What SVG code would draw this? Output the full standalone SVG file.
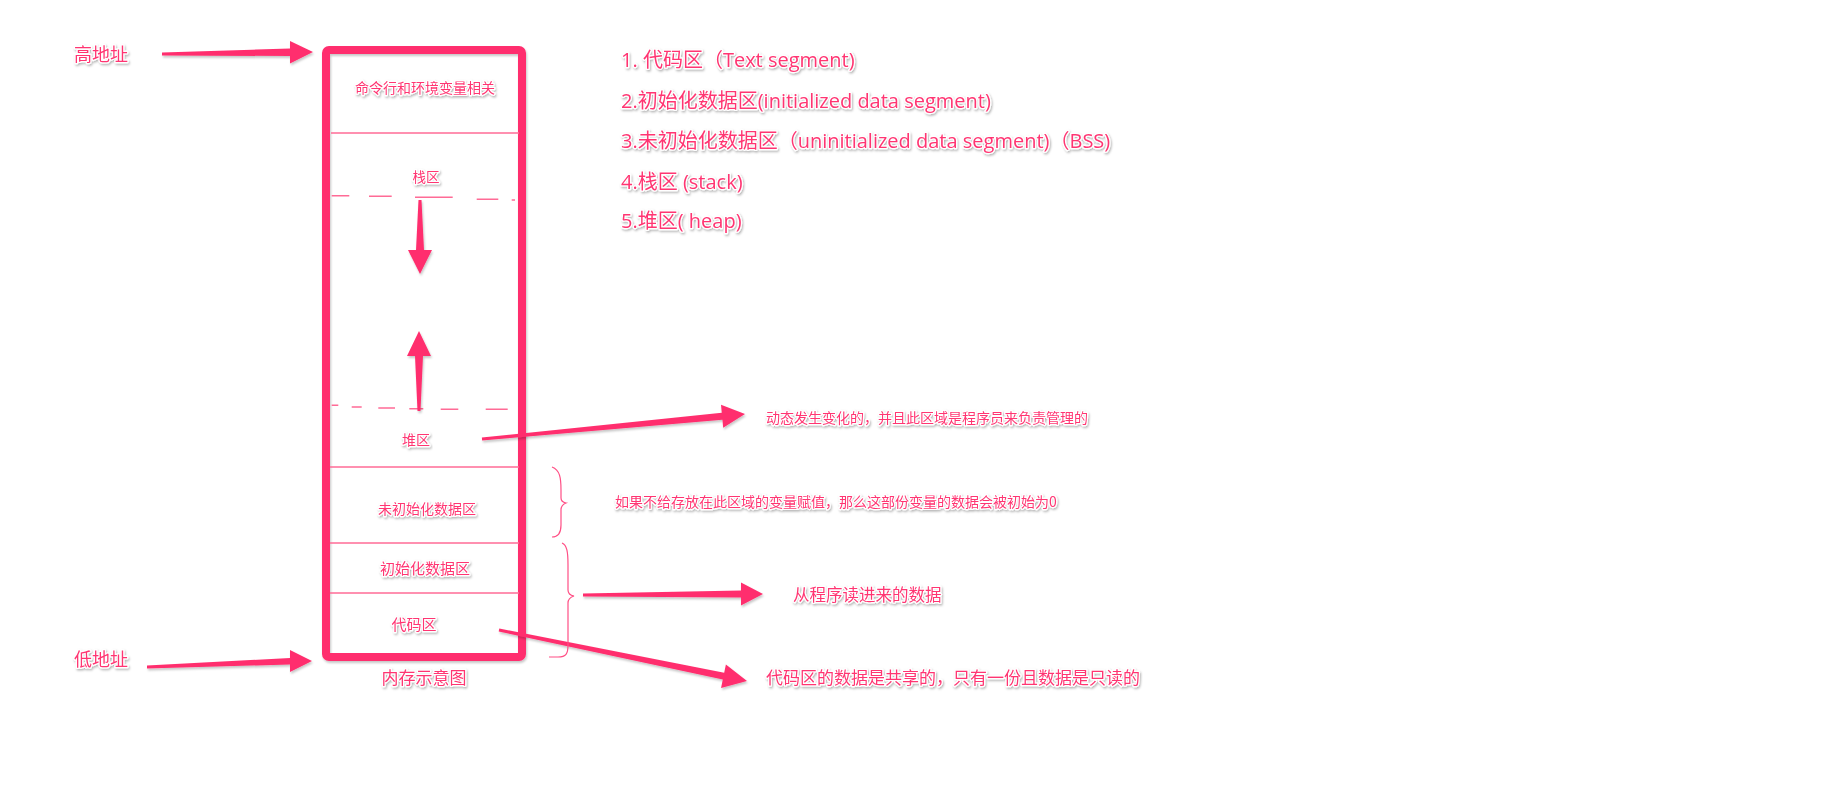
<svg xmlns="http://www.w3.org/2000/svg" width="1840" height="796" viewBox="0 0 1840 796">
<defs>
<filter id="sh" x="-10%" y="-30%" width="120%" height="160%">
<feDropShadow dx="1" dy="1.5" stdDeviation="1" flood-color="#000" flood-opacity="0.3"/>
</filter>
<filter id="ash" x="-10%" y="-30%" width="120%" height="160%">
<feDropShadow dx="1" dy="2" stdDeviation="1.2" flood-color="#000" flood-opacity="0.22"/>
</filter>
</defs>
<style>
.t{font-family:"Noto Sans CJK SC","Noto Sans",sans-serif;fill:#ff3572;stroke:#fff;stroke-width:2.5;paint-order:stroke;stroke-linejoin:round;filter:url(#sh)}
.l{font-family:"Open Sans","Noto Sans CJK SC",sans-serif;font-size:20px}
.m{text-anchor:middle}
.ln{stroke:#ff6b96;stroke-width:1.4;fill:none}
.ar{fill:#ff2f6e;filter:url(#ash)}
.br{stroke:#ff4f85;stroke-width:1.2;fill:none}
</style>
<rect width="1840" height="796" fill="#fff"/>

<g id="memory-box">
<rect x="326" y="50" width="196" height="607" rx="3" fill="none" stroke="#ff2f6e" stroke-width="8" filter="url(#ash)"/>
</g>

<g id="region-cmdline">
<text class="t m" x="425" y="93" font-size="14">命令行和环境变量相关</text>
<line class="ln" x1="331" y1="133" x2="519" y2="133"/>
</g>

<g id="region-stack">
<text class="t m" x="426" y="182" font-size="13.5">栈区</text>
<path class="ln" d="M331.7,195.7H349.3M369,196.3H391.7M415,197.3H452.7M476.7,199.3H498.3M511.7,200H515"/>
</g>

<g id="region-heap">
<path class="ln" d="M331.7,405.3H338.3M351.7,407H361.7M378.3,408H395M409.3,408.7H423.3M440.7,409.3H458.3M485.7,409.3H507.7"/>
<text class="t m" x="416" y="445" font-size="14">堆区</text>
<line class="ln" x1="330" y1="467" x2="519" y2="467"/>
</g>

<g id="region-bss">
<text class="t m" x="427" y="514" font-size="14">未初始化数据区</text>
<line class="ln" x1="330" y1="543" x2="519" y2="543"/>
</g>

<g id="region-data">
<text class="t m" x="425" y="574" font-size="15">初始化数据区</text>
<line class="ln" x1="330" y1="593" x2="519" y2="593"/>
</g>

<g id="region-text">
<text class="t m" x="414" y="630" font-size="15">代码区</text>
</g>

<g id="caption">
<text class="t m" x="424" y="684" font-size="17">内存示意图</text>
</g>

<g id="label-high">
<text class="t m" x="101" y="61" font-size="18">高地址</text>
</g>
<g id="label-low">
<text class="t m" x="101" y="666" font-size="18">低地址</text>
</g>

<g id="legend">
<text class="t l" x="621" y="67">1. 代码区（Text segment)</text>
<text class="t l" x="621" y="108">2.初始化数据区(initialized data segment)</text>
<text class="t l" x="621" y="148">3.未初始化数据区（uninitialized data segment)（BSS)</text>
<text class="t l" x="621" y="189">4.栈区 (stack)</text>
<text class="t l" x="621" y="228">5.堆区( heap)</text>
</g>

<g id="note-heap">
<text class="t" x="766" y="423" font-size="14">动态发生变化的，并且此区域是程序员来负责管理的</text>
</g>
<g id="note-bss">
<text class="t" x="615" y="507" font-size="14">如果不给存放在此区域的变量赋值，那么这部份变量的数据会被初始为0</text>
</g>
<g id="note-data">
<text class="t" x="793" y="601" font-size="16.5">从程序读进来的数据</text>
</g>
<g id="note-text">
<text class="t" x="766" y="684" font-size="17">代码区的数据是共享的，只有一份且数据是只读的</text>
</g>

<g id="connectors">
<polygon class="ar" points="162,52.5 290,48.5 290,41 313,52 290,63.5 290,56 162,55.5"/>
<polygon class="ar" points="147,665.5 290,658 290,650 312,661 290,672 290,664.5 147,668.5"/>
<polygon class="ar" points="418.5,200 421.5,200 424,250 432,250 420,274 408,250 416,250"/>
<polygon class="ar" points="419,331 431,356 423,356 420.5,411 417.5,411 415,356 407,356"/>
<polygon class="ar" points="481.86,437.51 721.77,412.72 721.01,404.75 745,414 723.19,427.65 722.43,419.68 482.14,440.49"/>
<polygon class="ar" points="583,593.6 741,590.5 741,582.5 763,594 741,605.5 741,597.5 583,596.4"/>
<polygon class="ar" points="499.30,628.53 724.19,672.74 725.91,664.42 747,681 721.07,687.92 722.79,679.60 498.70,631.47"/>
<path class="br" d="M552,467C560,470 561,478 561,490L561,498Q561,502 566,503Q561,505 561,510L561,525C561,533 558,537 552,537"/>
<path class="br" d="M562,543C567,545 568,552 568,565L568,590Q568,595 574,596Q568,598 568,603L568,645C568,654 566,657 558,657L549,657"/>
</g>
</svg>
